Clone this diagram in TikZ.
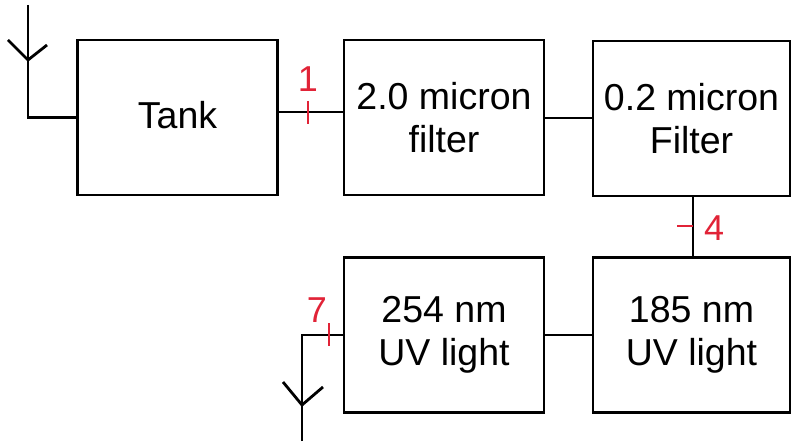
\documentclass[tikz,border=0pt]{standalone}
\usepackage{fontspec}
\setmainfont{Liberation Sans}
\definecolor{tickred}{RGB}{225,35,55}
\begin{document}
\begin{tikzpicture}[x=1pt,y=-1pt,
  blk/.style={draw=black,line width=2.8pt,minimum width=200pt,minimum height=155pt,inner sep=0pt,align=center,font=\fontsize{37.5}{43}\selectfont},
  wire/.style={draw=black,line width=2.8pt},
  rtick/.style={draw=tickred,line width=2.8pt},
  rlab/.style={text=tickred,font=\fontsize{36}{36}\selectfont,inner sep=0pt}]
\useasboundingbox (0,0) rectangle (791,441);
\node[blk] (tank) at (177.5,117.5) {\raisebox{6pt}{Tank}};
\node[blk] (f2) at (444,117.5) {2.0 micron\\filter};
\node[blk,minimum width=197pt] (f02) at (691.5,118.5) {0.2 micron\\Filter};
\node[blk,minimum width=197pt] (uv185) at (691.5,335) {185 nm\\UV light};
\node[blk] (uv254) at (444,335) {254 nm\\UV light};
% wires
\draw[wire] (tank.east |- 0,112) -- (f2.west |- 0,112);
\draw[wire] (f2.east |- 0,118) -- (f02.west |- 0,118);
\draw[wire] (f02.south -| 693,0) -- (uv185.north -| 693,0);
\draw[wire] (uv254) -- (uv185);
% inlet antenna
\coordinate (a1top) at (28,5);
\coordinate (a1j) at (28,60);
\coordinate (a1l) at (8,40);
\coordinate (a1r) at (47,45);
\draw[wire] (a1top) |- (tank.west);
\draw[wire] (a1l) -- (a1j) -- (a1r);
% outlet antenna
\coordinate (a2bot) at (302,441);
\coordinate (a2j) at (302,405);
\coordinate (a2l) at (283,382);
\coordinate (a2r) at (323,387);
\draw[wire] (a2bot) |- (uv254.west);
\draw[wire] (a2l) -- (a2j) -- (a2r);
% red markers
\draw[rtick] (308,101) -- (308,124);
\node[rlab] (n1) at (308,79) {1};
\draw[rtick] (677,226) -- (693,226);
\node[rlab] (n4) at (714,228) {4};
\draw[rtick] (329,323) -- (329,346);
\node[rlab] (n7) at (317,310) {7};
\end{tikzpicture}
\end{document}
